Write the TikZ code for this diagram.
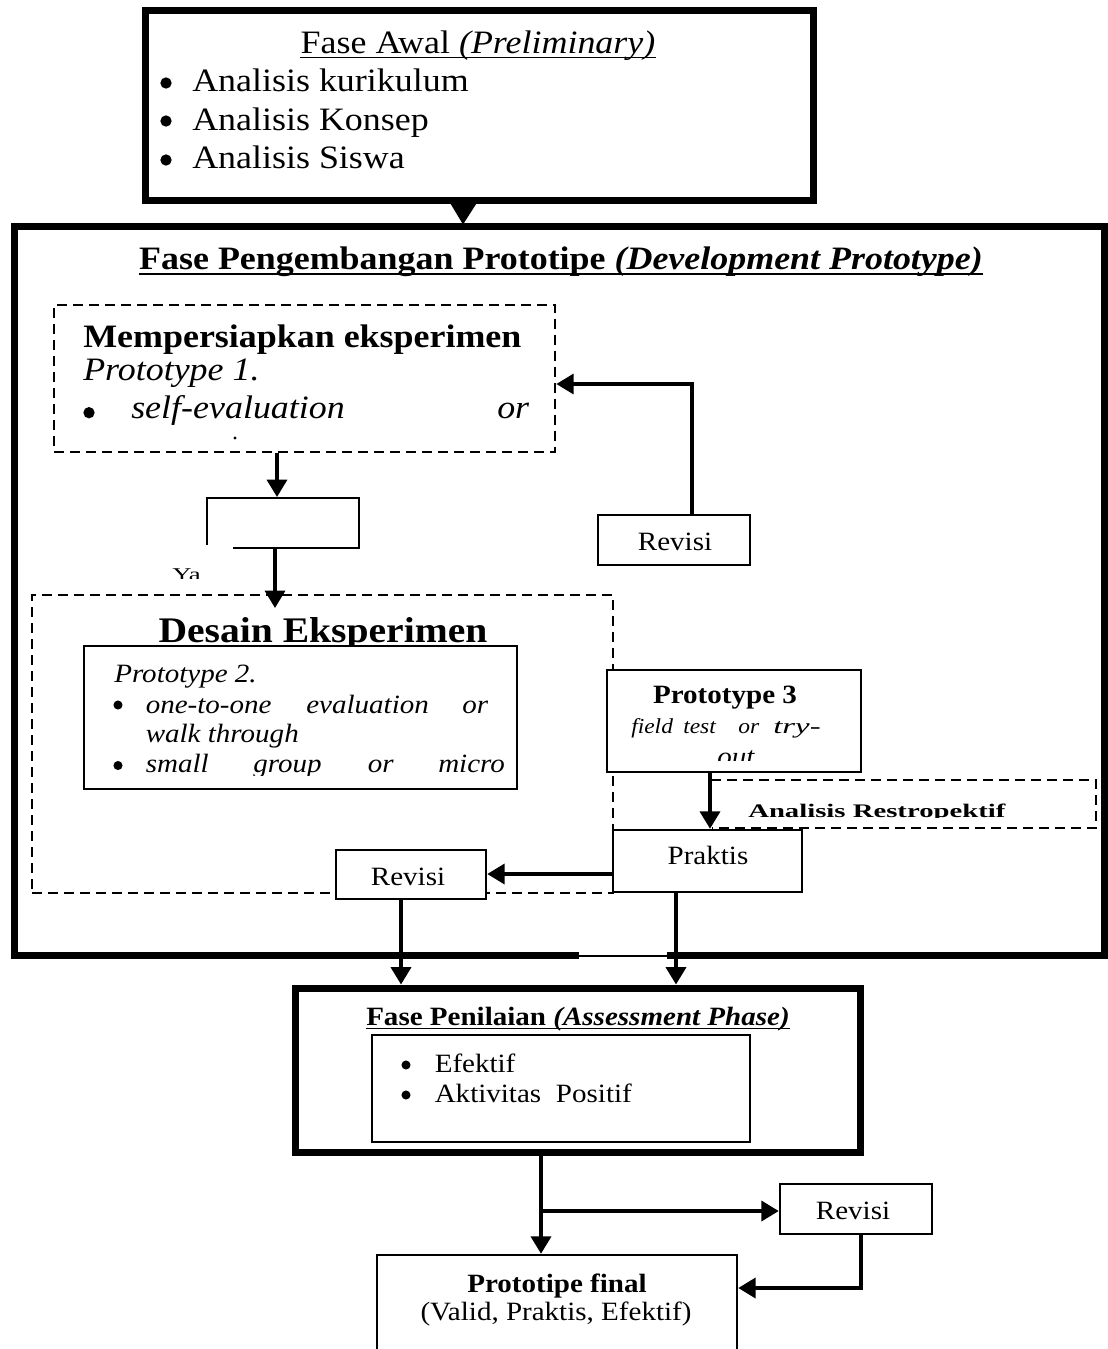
\documentclass[tikz,border=0pt]{standalone}
\usepackage{fontspec}
\usepackage{graphicx}
\setmainfont{Liberation Serif}[FakeStretch=1.1]
\usetikzlibrary{arrows.meta,calc}
\newcommand\fszA{\fontsize{24.5pt}{29pt}\selectfont}
\newcommand\fszB{\fontsize{19.8pt}{24pt}\selectfont}
\newcommand\fszC{\fontsize{27pt}{32pt}\selectfont}
\newcommand\fszD{\fontsize{16pt}{19pt}\selectfont}
\newcommand\fszS{\fontsize{14.4pt}{17pt}\selectfont}
\newcommand\fszY{\fontsize{13.5pt}{16pt}\selectfont}
\tikzset{
  thickbox/.style={draw, line width=5.25pt, inner sep=0pt},
  thinbox/.style={draw, line width=1.9pt, fill=white, inner sep=0pt},
  dashbox/.style={draw, line width=2pt, dash pattern=on 7.5pt off 4.5pt, inner sep=0pt},
  dashline/.style={line width=2pt, dash pattern=on 7.5pt off 4.5pt},
  conn/.style={line width=2.6pt},
  arr/.style={conn, -{Triangle[length=13pt,width=15pt]}},
  txt/.style={inner sep=0pt, anchor=base west},
  ctxt/.style={inner sep=0pt, anchor=base},
  uline/.style={line width=1.4pt},
  bulA/.style={circle, fill, inner sep=0pt, minimum size=8.5pt},
  bulB/.style={circle, fill, inner sep=0pt, minimum size=6.8pt}}
\begin{document}
\begin{tikzpicture}[x=0.75pt,y=-0.75pt]
\useasboundingbox (0,0) rectangle (1107,1349);

% helper coordinates
\coordinate (c463) at (463,0);

% ---------- boxes ----------
\node[thickbox, minimum width=817.5pt, minimum height=546.75pt] (fp) at (559,590.5) {};
\fill[white] (579,951) rectangle (667,960);
\draw[line width=1.5pt] (579,956) -- (667,956);
\node[thickbox, fill=white, minimum width=501pt, minimum height=142.5pt] (fa) at (479,105) {};
\fill ($(fa.south -| c463)+(-15,-4)$) -- ($(fa.south -| c463)+(16,-4)$) -- ($(fp.north -| c463)+(0,2)$) -- cycle;

\node[dashbox, minimum width=375.75pt, minimum height=110.25pt] (d1) at (304.5,378.5) {};
\node[dashbox, minimum width=435.75pt, minimum height=223.5pt] (d2) at (322.5,744) {};
\node[ctxt] (tde) at (323,642) {\fszC\bfseries Desain Eksperimen};
\node[thinbox, minimum width=324.75pt, minimum height=107.25pt] (p2) at (300.5,717.5) {};
\node[thinbox, minimum width=114pt, minimum height=37.5pt] (rv1) at (674,540) {};
\node[thinbox, minimum width=190.5pt, minimum height=76.5pt] (p3) at (734,721) {};
\node[thinbox, minimum width=141.75pt, minimum height=46.5pt] (pr) at (707.5,861) {};
\node[thinbox, minimum width=112.5pt, minimum height=36.75pt] (rv2) at (411,874.5) {};
\draw[dashline] (711,780) -- (1096,780) -- (1096,828) -- (712,828);
\node[thickbox, fill=white, minimum width=423.75pt, minimum height=123pt] (ap) at (577.5,1070) {};
\node[thinbox, minimum width=283.5pt, minimum height=80.25pt] (ai) at (561,1088.5) {};
\node[thinbox, minimum width=114pt, minimum height=37.5pt] (rv3) at (856,1209) {};
\node[thinbox, minimum width=270pt, minimum height=78.75pt] (pf) at (557,1307.5) {};

% open decision box
\coordinate (obA) at (233,548);
\coordinate (obB) at (359,548);
\coordinate (obC) at (359,498);
\coordinate (obD) at (207,498);
\coordinate (obE) at (207,545);
\draw[line width=1.9pt] (obA) -- (obB) -- (obC) -- (obD) -- (obE);

% ---------- connectors ----------
\coordinate (obin) at (277,497);
\draw[arr] (d1.south -| obin) -- (obin);
\coordinate (obout) at (275,548);
\coordinate (dtin) at (275,608);
\draw[arr] (obout) -- (dtin);
\coordinate (k1) at (692,384);
\draw[arr] (rv1.north -| k1) -- (k1) -- (d1.east |- k1);
\coordinate (k2) at (710,0);
\draw[arr] (p3.south -| k2) -- (pr.north -| k2);
\coordinate (k3) at (0,874);
\draw[arr] (pr.west |- k3) -- (rv2.east |- k3);
\coordinate (k4) at (401,0);
\coordinate (k5) at (676,0);
\draw[arr] (rv2.south -| k4) -- (ap.north -| k4);
\draw[arr] (pr.south -| k5) -- (ap.north -| k5);
\coordinate (k6) at (541,1211);
\draw[arr] (ap.south -| k6) -- (pf.north -| k6);
\draw[arr] (k6) -- (rv3.west |- k6);
\coordinate (k7) at (861,1288);
\draw[arr] (rv3.south -| k7) -- (k7) -- (pf.east |- k7);

% ---------- texts ----------
% Fase Awal
\node[ctxt] (tfa) at (478,53) {\fszA Fase Awal \textit{(Preliminary)}};
\draw[uline] ([yshift=-3.4pt]tfa.base west) -- ([yshift=-3.4pt]tfa.base east);
\node[bulA] (ba1) at (166,83) {};
\node[bulA] (ba2) at (166,121) {};
\node[bulA] (ba3) at (166,160) {};
\node[txt] (ta1) at (192,91) {\fszA Analisis kurikulum};
\node[txt] (ta2) at (192,130) {\fszA Analisis Konsep};
\node[txt] (ta3) at (192,168) {\fszA Analisis Siswa};

% Fase Pengembangan
\node[ctxt] (tfp) at (561,269) {\fszA\bfseries Fase Pengembangan Prototipe \textit{(Development Prototype)}};
\draw[uline] ([yshift=-3.75pt]tfp.base west) -- ([yshift=-3.75pt]tfp.base east);

% Mempersiapkan
\node[txt] (tm1) at (83,347) {\fszA\bfseries Mempersiapkan eksperimen};
\node[txt] (tm2) at (83,380) {\fszA\itshape Prototype 1.};
\node[bulA] (bm) at (89,412.7) {};
\node[txt] (tm3) at (131,418) {\fszA\itshape self-evaluation};
\node[txt] (tm4) at (497,418) {\fszA\itshape or};
\fill (235,438) circle[radius=1.3pt];

% Ya
\begin{scope}
\clip (160,550) rectangle (215,578.5);
\node[txt] (tya) at (172,580) {\scalebox{1.35}[1]{\fszY Ya}};
\end{scope}

% Prototype 2
\node[txt] (tp21) at (114,682) {\fszB\itshape Prototype 2.};
\node[bulB] (bp1) at (118,705) {};
\node[txt] (tp22) at (145.5,713) {\fszB\itshape one-to-one};
\node[txt] (tp23) at (306,713) {\fszB\itshape evaluation};
\node[txt] (tp24) at (462,713) {\fszB\itshape or};
\node[txt] (tp25) at (145.5,742) {\fszB\itshape walk through};
\node[bulB] (bp2) at (118,765.5) {};
\begin{scope}
\clip (100,745) rectangle (515,775);
\node[txt] (tp26) at (145.5,772) {\fszB\itshape small};
\node[txt] (tp27) at (253,772) {\fszB\itshape group};
\node[txt] (tp28) at (367.6,772) {\fszB\itshape or};
\node[txt] (tp29) at (438,772) {\fszB\itshape micro};
\end{scope}

% Revisi boxes
\node[ctxt] (trv1) at (675,550) {\fszB Revisi};
\node[ctxt] (trv2) at (408,885) {\fszB Revisi};
\node[ctxt] (trv3) at (853,1219) {\fszB Revisi};

% Prototype 3
\node[ctxt] (tp31) at (725,703) {\fszB\bfseries Prototype 3};
\node[txt] (tp32) at (631,733) {\fszD\itshape field};
\node[txt] (tp33) at (683,733) {\fszD\itshape test};
\node[txt] (tp34) at (738,733) {\fszD\itshape or};
\node[txt] (tp35) at (773,733) {\scalebox{1.4}[1]{\fszD\itshape try-}};
\begin{scope}
\clip (610,740) rectangle (858,760);
\node[ctxt] (tp36) at (736,765) {\fszB\itshape out};
\end{scope}

% Analisis Restropektif
\begin{scope}
\clip (740,790) rectangle (1090,817.5);
\node[txt] (tar) at (748,817) {\scalebox{1.36}[1]{\fszS\bfseries Analisis Restropektif}};
\end{scope}

% Praktis
\node[ctxt] (tpr) at (708,864) {\fszB Praktis};

% Fase Penilaian
\node[ctxt] (tap) at (578,1025) {\fszB\bfseries Fase Penilaian \textit{(Assessment Phase)}};
\draw[uline] ([yshift=-2.6pt]tap.base west) -- ([yshift=-2.6pt]tap.base east);
\node[bulB] (bi1) at (406,1065) {};
\node[bulB] (bi2) at (406,1095) {};
\node[txt] (ti1) at (434.5,1072) {\fszB Efektif};
\node[txt] (ti2) at (434.5,1102) {\fszB Aktivitas};
\node[txt] (ti3) at (555.7,1102) {\fszB Positif};

% Prototipe final
\node[ctxt] (tpf1) at (557,1292) {\fszB\bfseries Prototipe final};
\node[ctxt] (tpf2) at (556,1320) {\fszB (Valid, Praktis, Efektif)};
\end{tikzpicture}
\end{document}
